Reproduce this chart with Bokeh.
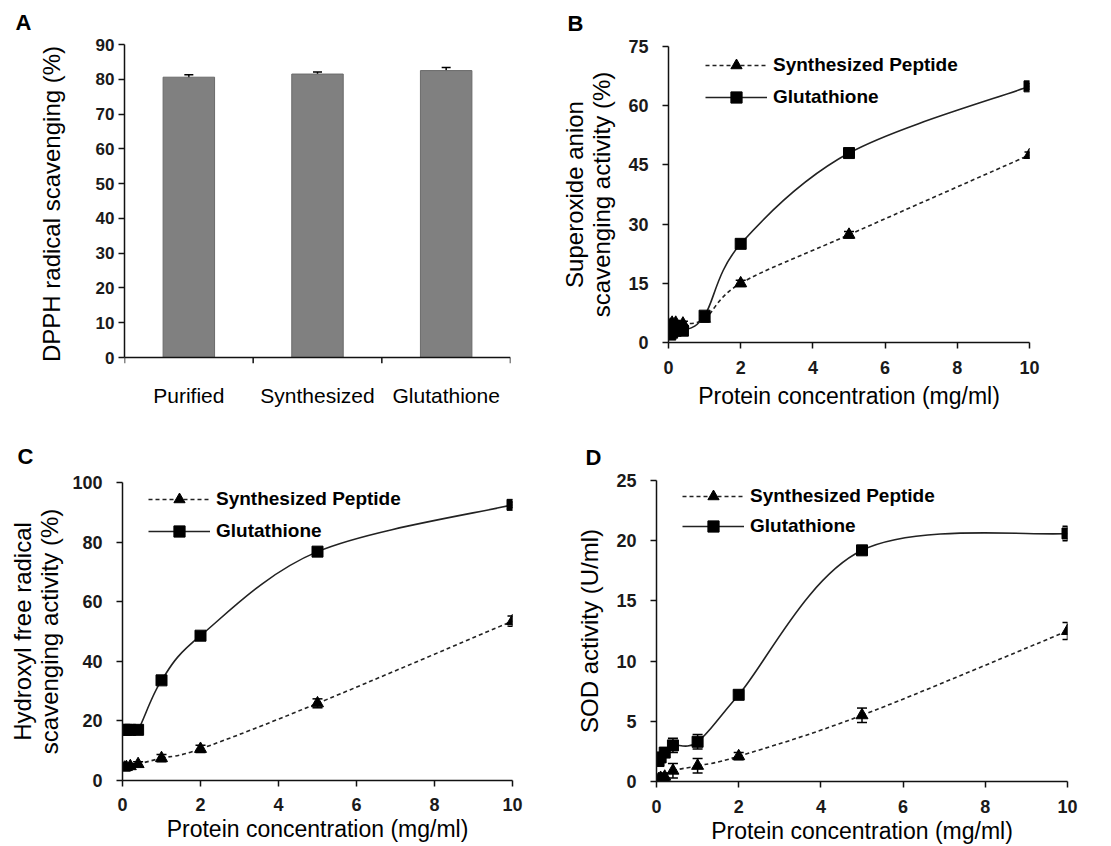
from bokeh.plotting import figure
from bokeh.models import (Range1d, FixedTicker, Whisker, TeeHead, Span,
                          ColumnDataSource, Legend, LegendItem)
from bokeh.layouts import column, row
from bokeh.embed import file_html
from bokeh.resources import INLINE

FONT = "Liberation Sans"
INK = "#111111"

# ---------------- data ----------------
categories = ["Purified", "Synthesized", "Glutathione"]
dpph_values = [80.6, 81.5, 82.5]
dpph_errors = [0.7, 0.6, 0.9]

conc = [0.05, 0.1, 0.2, 0.4, 1, 2, 5, 10]

sup_peptide = [4.5, 5.0, 5.0, 4.8, 6.0, 15.0, 27.3, 47.5]
sup_peptide_err = [0.6, 0.6, 0.6, 0.6, 0.8, 0.8, 0.8, 0.8]
sup_gluta = [2.0, 2.5, 3.0, 3.0, 6.8, 25.0, 48.0, 64.9]
sup_gluta_err = [0.5, 0.5, 0.5, 0.5, 0.8, 0.8, 0.8, 0.8]

hyd_peptide = [4.3, 4.5, 4.8, 5.5, 7.5, 10.6, 25.9, 53.5]
hyd_peptide_err = [0.8, 0.8, 0.8, 0.8, 1.2, 1.2, 1.5, 1.7]
hyd_gluta = [17.0, 17.0, 17.0, 17.0, 33.6, 48.6, 76.8, 92.5]
hyd_gluta_err = [0.5, 0.5, 0.5, 0.5, 1.0, 1.0, 1.0, 1.0]

sod_peptide = [0.2, 0.3, 0.4, 0.9, 1.3, 2.1, 5.5, 12.5]
sod_peptide_err = [0.2, 0.2, 0.3, 0.6, 0.6, 0.3, 0.6, 0.7]
sod_gluta = [1.7, 2.0, 2.4, 3.0, 3.3, 7.2, 19.2, 20.6]
sod_gluta_err = [0.3, 0.3, 0.3, 0.6, 0.6, 0.3, 0.3, 0.6]

legend_labels = ["Synthesized Peptide", "Glutathione"]
conc_title = "Protein concentration (mg/ml)"


def base_fig(w, h, xr, yr, bl, br, bt, bb, letter, offset, standoff, valign):
    p = figure(width=w, height=h, x_range=Range1d(*xr), y_range=Range1d(*yr),
               output_backend="svg", toolbar_location=None,
               min_border_left=bl, min_border_right=br,
               min_border_top=bt, min_border_bottom=bb, title=letter)
    p.title.align = "left"
    p.title.offset = offset
    p.title.standoff = standoff
    p.title.vertical_align = valign
    p.title.text_font = FONT
    p.title.text_font_size = "22px"
    p.title.text_font_style = "bold"
    p.title.text_color = "black"
    p.outline_line_color = None
    p.xgrid.visible = False
    p.ygrid.visible = False
    p.background_fill_color = "white"
    p.border_fill_color = "white"
    for ax in (p.xaxis[0], p.yaxis[0]):
        ax.axis_line_color = INK
        ax.axis_line_width = 1.5
        ax.major_tick_line_color = INK
        ax.major_tick_line_width = 1.5
        ax.major_tick_in = 0
        ax.major_tick_out = 6
        ax.minor_tick_line_color = None
        ax.major_label_text_font = FONT
        ax.major_label_text_font_style = "bold"
        ax.major_label_text_color = "#1a1a1a"
        ax.axis_label_text_font = FONT
        ax.axis_label_text_font_style = "normal"
        ax.axis_label_text_color = "black"
        ax.axis_label_text_line_height = 1.0
    return p


def curve_ctrl(xs, ys):
    n = len(xs)
    x0, y0, x1, y1, cx0, cy0, cx1, cy1 = [], [], [], [], [], [], [], []
    for i in range(n - 1):
        im = max(i - 1, 0)
        ip2 = min(i + 2, n - 1)
        x0.append(xs[i]); y0.append(ys[i])
        x1.append(xs[i + 1]); y1.append(ys[i + 1])
        cx0.append(xs[i] + (xs[i + 1] - xs[im]) / 6.0)
        cy0.append(ys[i] + (ys[i + 1] - ys[im]) / 6.0)
        cx1.append(xs[i + 1] - (xs[ip2] - xs[i]) / 6.0)
        cy1.append(ys[i + 1] - (ys[ip2] - ys[i]) / 6.0)
    return dict(x0=x0, y0=y0, x1=x1, y1=y1, cx0=cx0, cy0=cy0, cx1=cx1, cy1=cy1)


def line_panel(p, pep, pep_err, glu, glu_err, legend_loc, spacing):
    specs = [
        (pep, pep_err, "triangle", 12, "4 3", legend_labels[0]),
        (glu, glu_err, "square", 11, "solid", legend_labels[1]),
    ]
    items = []
    for ys, err, marker, msize, dash, label in specs:
        bz = p.bezier(source=ColumnDataSource(curve_ctrl(conc, ys)),
                      x0="x0", y0="y0", x1="x1", y1="y1",
                      cx0="cx0", cy0="cy0", cx1="cx1", cy1="cy1",
                      line_color="#222222", line_width=1.6, line_dash=dash)
        src = ColumnDataSource(dict(x=conc, y=ys,
                                    upper=[a + b for a, b in zip(ys, err)],
                                    lower=[a - b for a, b in zip(ys, err)]))
        w = Whisker(source=src, base="x", upper="upper", lower="lower",
                    dimension="height", line_color="black", line_width=1.5,
                    upper_head=TeeHead(size=10, line_color="black", line_width=1.5),
                    lower_head=TeeHead(size=10, line_color="black", line_width=1.5))
        p.add_layout(w)
        sc = p.scatter("x", "y", source=src, marker=marker, size=msize,
                       fill_color="black", line_color="black")
        items.append(LegendItem(label=label, renderers=[bz, sc], index=0))
    leg = Legend(items=items, location=legend_loc, glyph_width=62, glyph_height=28,
                 label_text_font=FONT, label_text_font_style="bold",
                 label_text_color="black",
                 label_text_font_size="19px", label_standoff=6, spacing=spacing,
                 padding=0, margin=0, border_line_color=None,
                 background_fill_alpha=0, label_height=28)
    p.add_layout(leg)


def conc_axes(p, yticks, ylabel, ylab_standoff, xlab_standoff, xtitle_standoff):
    p.xaxis[0].ticker = FixedTicker(ticks=[0, 2, 4, 6, 8, 10])
    p.yaxis[0].ticker = FixedTicker(ticks=yticks)
    p.xaxis[0].major_label_text_font_size = "18px"
    p.yaxis[0].major_label_text_font_size = "18px"
    p.xaxis[0].major_label_standoff = xlab_standoff
    p.yaxis[0].major_label_standoff = 14
    p.xaxis[0].axis_label = conc_title
    p.yaxis[0].axis_label = ylabel
    p.xaxis[0].axis_label_text_font_size = "23px"
    p.yaxis[0].axis_label_text_font_size = "24px"
    p.xaxis[0].axis_label_standoff = xtitle_standoff
    p.yaxis[0].axis_label_standoff = ylab_standoff


# ---------------- Panel A ----------------
A_TOP = 90
A_FRAME_H = 313
tick_len = 6 * A_TOP / A_FRAME_H          # 6 px expressed in data units
pa = base_fig(545, 420, (0, 3), (-tick_len, A_TOP), 124, 35, 44, 57, "A", -109, 16, "top")
xpos = [i + 0.5 for i in range(len(categories))]
srcA = ColumnDataSource(dict(x=xpos, top=dpph_values,
                             upper=[v + e for v, e in zip(dpph_values, dpph_errors)],
                             lower=[v - e for v, e in zip(dpph_values, dpph_errors)]))
pa.vbar(x="x", top="top", width=0.4, bottom=0, source=srcA,
        fill_color="#808080", line_color="#6a6a6a", line_width=1)
pa.add_layout(Whisker(source=srcA, base="x", upper="upper", lower="lower",
                      dimension="height", line_color="black", line_width=1.5,
                      upper_head=TeeHead(size=9, line_color="black", line_width=1.5),
                      lower_head=TeeHead(size=9, line_color="black", line_width=1.5)))
# Excel-style category axis: line at 0 with ticks at category boundaries
boundaries = list(range(len(categories) + 1))
pa.segment(x0=boundaries, x1=boundaries, y0=[0] * len(boundaries),
           y1=[-tick_len] * len(boundaries), line_color=INK, line_width=1.5)
pa.add_layout(Span(location=0, dimension="width", line_color=INK, line_width=1.5))
pa.yaxis[0].bounds = (0, A_TOP)
pa.yaxis[0].ticker = FixedTicker(ticks=list(range(0, 91, 10)))
pa.yaxis[0].major_label_text_font_size = "17px"
pa.yaxis[0].major_label_standoff = 4
pa.yaxis[0].axis_label = "DPPH radical scavenging (%)"
pa.yaxis[0].axis_label_text_font_size = "24px"
pa.yaxis[0].axis_label_standoff = 28
pa.xaxis[0].axis_line_color = None
pa.xaxis[0].ticker = FixedTicker(ticks=xpos)
pa.xaxis[0].major_label_overrides = {x: c for x, c in zip(xpos, categories)}
pa.xaxis[0].major_tick_out = 0
pa.xaxis[0].major_label_standoff = 20
pa.xaxis[0].major_label_text_font_size = "21px"
pa.xaxis[0].major_label_text_font_style = "normal"
pa.xaxis[0].major_label_text_color = "black"

# ---------------- Panel B ----------------
pb = base_fig(566, 420, (0, 10), (0, 75), 123, 82, 46, 78, "B", -101, 18, "top")
line_panel(pb, sup_peptide, sup_peptide_err, sup_gluta, sup_gluta_err, (37, 231), 4)
conc_axes(pb, [0, 15, 30, 45, 60, 75], "Superoxide anion\nscavenging activity (%)", 10, 12, 6)

# ---------------- Panel C ----------------
pc = base_fig(545, 426, (0, 10), (0, 100), 122, 33, 62, 66, "C", -105, 27, "bottom")
line_panel(pc, hyd_peptide, hyd_peptide_err, hyd_gluta, hyd_gluta_err, (26, 235), 4)
conc_axes(pc, [0, 20, 40, 60, 80, 100], "Hydroxyl free radical\nscavenging activity (%)", 6, 11, 2)

# ---------------- Panel D ----------------
pd_ = base_fig(566, 426, (0, 10), (0, 25), 111, 44, 60, 65, "D", -71, 22, "bottom")
line_panel(pd_, sod_peptide, sod_peptide_err, sod_gluta, sod_gluta_err, (26, 241), 2)
conc_axes(pd_, [0, 5, 10, 15, 20, 25], "SOD activity (U/ml)", 10, 12, 2)

layout = column(row(column(pa), column(pb), spacing=0),
                row(column(pc), column(pd_), spacing=0), spacing=0)

with open("out.html", "w") as f:
    f.write(file_html(layout, INLINE))
